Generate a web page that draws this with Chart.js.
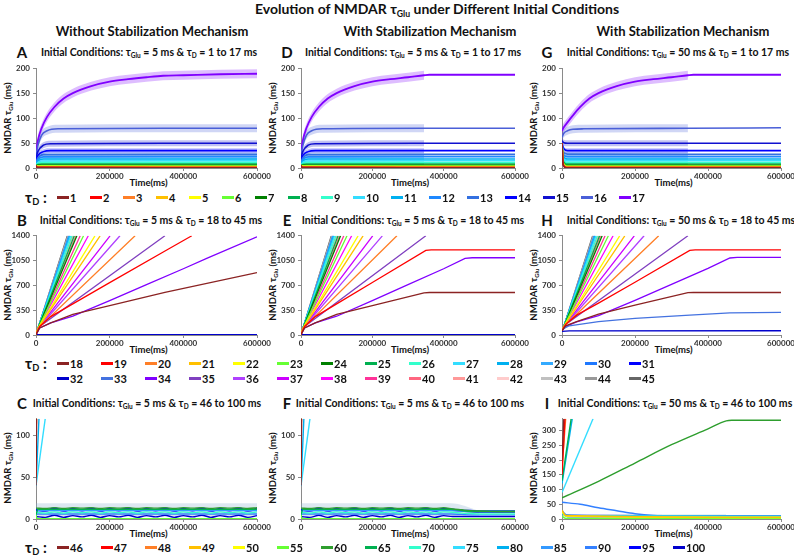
<!DOCTYPE html>
<html>
<head>
<meta charset="utf-8">
<script src="https://cdn.jsdelivr.net/npm/chart.js@4.4.1/dist/chart.umd.min.js"></script>
<style>
body{margin:0;width:794px;height:555px;background:#fff;position:relative;overflow:hidden;font-family:Lato,"Open Sans",sans-serif;font-weight:700;color:#111}
.t{position:absolute;white-space:nowrap;line-height:1}
.c{transform:translate(-50%,-50%)}
.l{transform:translate(0,-50%)}
.r{transform:translate(-50%,-50%) rotate(-90deg)}
.k{position:absolute;height:2.5px}
sub{font-size:.62em;vertical-align:-.3em;line-height:0}
canvas{position:absolute}
</style>
</head>
<body>
<script>
// legend labels
const TAU_D1 = [1,2,3,4,5,6,7,8,9,10,11,12,13,14,15,16,17];
const TAU_D2 = [18,19,20,21,22,23,24,25,26,27,28,29,30,31,32,33,34,35,36,37,38,39,40,41,42,43,44,45];
const TAU_D3 = [46,47,48,49,50,55,60,65,70,75,80,85,90,95,100];

const COLORS1 = ['#8B2323','#FF0000','#FF7F27','#FFC000','#FFFF00','#66FF33','#008000','#00B050','#33FFCC','#33DDFF','#00B0F0','#1E88FF','#3370E0','#0000FF','#1010D0','#4A5FD8','#8000FF'];
const COLORS2 = ['#8B2323','#FF0000','#FF7F27','#FFC000','#FFFF00','#66FF33','#008000','#00B050','#33FFCC','#33DDFF','#00B0F0','#33AAFF','#1E78FF','#0000FF','#0000CC','#4472E0','#8000FF','#8040C0','#B040FF','#CC00FF','#FF00FF','#FF3399','#FF6680','#FF9999','#FFCCCC','#C0C0C0','#999999','#666666'];
const COLORS3 = ['#8B2323','#FF0000','#FF7F27','#FFC000','#FFFF00','#66FF33','#2E9E2E','#00B050','#33FFCC','#33DDFF','#00B0F0','#3399FF','#3380FF','#0000FF','#0000CC'];

// ticks
const X_TICKS = [0,200000,400000,600000];
const Y_TICKS1 = [0,50,100,150,200];
const Y_TICKS2 = [0,350,700,1050,1400];
const Y_TICKS3 = [0,50,100];
const Y_TICKS3I = [0,50,100,150,200,250,300];

// row 1: tauD 1..17, [time, tauGlu]
const A_PTS = [
  [[0,5],[3000,1],[345000,0.4],[600000,0.4]],
  [[0,5],[3000,1.5],[345000,0.8],[600000,0.8]],
  [[0,5],[4000,2],[345000,1.3],[600000,1.3]],
  [[0,5],[4000,2.5],[345000,2],[600000,2]],
  [[0,5],[5000,3.5],[345000,3],[600000,3]],
  [[0,5],[5000,4.5],[345000,4],[600000,4]],
  [[0,5],[5000,5.5],[345000,5.5],[600000,5.5]],
  [[0,5],[5000,7],[15000,8],[345000,8],[600000,8]],
  [[0,5],[5000,9],[15000,11],[345000,11],[600000,11]],
  [[0,5],[5000,11],[15000,14],[345000,14.5],[600000,14.5]],
  [[0,8],[5000,14],[20000,18],[345000,18],[600000,18]],
  [[0,10],[5000,17],[20000,22.5],[345000,23],[600000,23]],
  [[0,12],[5000,20],[20000,27],[345000,27.5],[600000,27.5]],
  [[0,15],[5000,25],[20000,33],[40000,35],[345000,35],[600000,35]],
  [[0,20],[5000,33],[20000,46],[40000,49],[345000,50],[600000,50]],
  [[0,25],[5000,45],[15000,66],[30000,75],[60000,79],[345000,80],[600000,80]],
  [[0,30],[5000,55],[15000,80],[30000,103],[50000,123],[75000,140],[100000,151],[150000,165],[200000,174],[250000,179],[300000,183],[345000,186],[400000,187],[500000,189],[600000,190]]
];
const D_TOP = [[0,30],[5000,55],[15000,80],[30000,103],[50000,123],[75000,140],[100000,151],[150000,165],[200000,174],[250000,179],[300000,183],[345000,187],[360000,188],[600000,188]];
const G_PTS = [
  [[0,50],[3000,6],[12000,0.4],[345000,0.4],[600000,0.4]],
  [[0,50],[3000,7],[12000,0.8],[345000,0.8],[600000,0.8]],
  [[0,50],[3000,8],[12000,1.3],[345000,1.3],[600000,1.3]],
  [[0,50],[3000,9],[12000,2],[345000,2],[600000,2]],
  [[0,50],[3000,10],[12000,3],[345000,3],[600000,3]],
  [[0,50],[3000,11],[12000,4],[345000,4],[600000,4]],
  [[0,50],[3000,12],[12000,5.5],[345000,5.5],[600000,5.5]],
  [[0,50],[3000,14],[12000,8],[345000,8],[600000,8]],
  [[0,50],[3000,17],[12000,11],[345000,11],[600000,11]],
  [[0,50],[3000,20],[12000,14.5],[345000,14.5],[600000,14.5]],
  [[0,50],[3000,24],[15000,18],[345000,18],[600000,18]],
  [[0,50],[3000,28],[15000,23],[345000,23],[600000,23]],
  [[0,50],[3000,33],[15000,28],[345000,27.5],[600000,27.5]],
  [[0,50],[4000,40],[15000,35],[345000,35],[600000,35]],
  [[0,55],[5000,51],[15000,50],[345000,50],[600000,50]],
  [[0,62],[5000,70],[15000,75],[30000,78],[60000,79],[345000,80],[600000,81]],
  [[0,75],[5000,82],[15000,92],[30000,106],[50000,123],[75000,140],[100000,151],[150000,165],[200000,174],[250000,179],[300000,183],[345000,187],[360000,188],[600000,188]]
];
const NOISE1 = [0.4,0.6,0.8,1,1.2,1.5,1.8,2,2.5,3,3.5,4,4,5,6,8,9];

// row 2: tauD 18..45
const B_PTS = [
  [[0,5],[10000,100],[40000,170],[100000,290],[200000,415],[350000,600],[600000,880]],
  [[0,5],[10000,120],[40000,260],[100000,440],[200000,740],[355000,1200],[423000,1400]],
  [[0,5],[5000,90],[269000,1400]],
  [[0,5],[5000,90],[174000,1400]],
  [[0,5],[5000,90],[160000,1400]],
  [[0,5],[5000,90],[129000,1400]],
  [[0,5],[5000,90],[111000,1400]],
  [[0,5],[5000,90],[104000,1400]],
  [[0,5],[5000,90],[98000,1400]],
  [[0,5],[5000,90],[94000,1400]],
  [[0,5],[5000,90],[92000,1400]],
  [[0,5],[5000,90],[90000,1400]],
  [[0,5],[5000,90],[89000,1400]],
  [[0,5],[5000,90],[91000,1400]],
  [[0,5],[600000,5]],
  [[0,5],[600000,5]],
  [[0,5],[10000,100],[40000,170],[100000,265],[200000,485],[300000,710],[400000,935],[465000,1085],[600000,1385]],
  [[0,5],[10000,120],[350000,1400]],
  [[0,5],[5000,90],[228000,1400]],
  [[0,5],[5000,90],[201000,1400]],
  [[0,5],[5000,90],[142000,1400]],
  [[0,5],[5000,90],[120000,1400]],
  [[0,5],[5000,90],[108000,1400]],
  [[0,5],[5000,90],[101000,1400]],
  [[0,5],[5000,90],[96000,1400]],
  [[0,5],[5000,90],[88000,1400]],
  [[0,5],[5000,90],[86000,1400]],
  [[0,5],[5000,90],[85000,1400]]
];
const E_18 = [[0,5],[10000,100],[40000,170],[100000,290],[200000,415],[345000,595],[360000,600],[600000,600]];
const E_19 = [[0,5],[10000,120],[40000,260],[100000,440],[200000,740],[350000,1195],[365000,1200],[600000,1200]];
const E_34 = [[0,5],[10000,100],[40000,170],[100000,265],[200000,485],[300000,710],[400000,935],[460000,1082],[480000,1090],[600000,1090]];
const H_PTS = [
  [[0,60],[10000,130],[40000,190],[100000,295],[200000,420],[345000,597],[360000,600],[600000,600]],
  [[0,60],[10000,150],[40000,280],[100000,450],[200000,745],[350000,1195],[365000,1200],[600000,1200]],
  [[0,70],[5000,120],[265000,1400]],
  [[0,70],[5000,120],[172000,1400]],
  [[0,70],[5000,120],[158000,1400]],
  [[0,70],[5000,120],[127000,1400]],
  [[0,70],[5000,120],[110000,1400]],
  [[0,70],[5000,120],[103000,1400]],
  [[0,70],[5000,120],[97000,1400]],
  [[0,70],[5000,120],[93000,1400]],
  [[0,70],[5000,120],[91000,1400]],
  [[0,70],[5000,120],[89000,1400]],
  [[0,70],[5000,120],[88000,1400]],
  [[0,70],[5000,120],[90000,1400]],
  [[0,50],[20000,58],[600000,60]],
  [[0,80],[20000,130],[100000,190],[200000,235],[350000,280],[460000,312],[600000,318]],
  [[0,60],[10000,120],[40000,185],[100000,275],[200000,490],[300000,715],[400000,940],[460000,1087],[480000,1095],[600000,1095]],
  [[0,70],[10000,150],[345000,1400]],
  [[0,70],[5000,120],[225000,1400]],
  [[0,70],[5000,120],[198000,1400]],
  [[0,70],[5000,120],[140000,1400]],
  [[0,70],[5000,120],[118000,1400]],
  [[0,70],[5000,120],[106000,1400]],
  [[0,70],[5000,120],[100000,1400]],
  [[0,70],[5000,120],[95000,1400]],
  [[0,70],[5000,120],[87000,1400]],
  [[0,70],[5000,120],[85000,1400]],
  [[0,70],[5000,120],[84000,1400]]
];

// row 3: tauD 46..100
const W_X = [0,25000,50000,75000,100000,125000,150000,175000,200000,225000,250000,275000,300000,325000,350000,375000,400000,425000,450000,475000,500000,525000,550000,575000,600000];
const C60_Y = [13,12.5,13.5,12.5,13.5,13,13.5,12.5,13.5,13,13.5,12.5,13.5,13,13.5,12.5,13.5,13,13.5,12.5,13.5,13,13.5,12.5,13.5];
const C70_Y = [8,7,8.5,7,8.5,7.5,8.5,7,8.5,7.5,8.5,7,8.5,7.5,8.5,7,8.5,7.5,8.5,7,8.5,7.5,8.5,7,8.5];
const C95_Y = [11,10,12.5,10,12,10.5,12.5,10,12,10.5,12.5,10,12,10.5,12.5,10,12,10.5,12.5,10,12,10.5,12.5,10,12];
const C100_Y = [3,2,4.5,2,4,2.5,4.5,2,4,2.5,4.5,2,4,2.5,4.5,2,4,2.5,4.5,2,4,2.5,4.5,2,4];
const F60_Y = [13,12.5,13.5,12.5,13.5,13,13.5,12.5,13.5,13,13.5,12.5,13.5,13,13.5,12.5,13.5,12,11,10,9.5,9.2,9,9,9];
const F70_Y = [8,7,8.5,7,8.5,7.5,8.5,7,8.5,7.5,8.5,7,8.5,7.5,8.5,7,8.5,8,7,6.5,6,6,6,6,6];
const F95_Y = [11,10,12.5,10,12,10.5,12.5,10,12,10.5,12.5,10,12,10.5,12.5,10,12,11,10,9.5,9,9,9,9,9];
const F100_Y = [3,2,4.5,2,4,2.5,4.5,2,4,2.5,4.5,2,4,2.5,4.5,2,4,3,3,3,3,3,3,3,3];
const C_PTS = [
  [[0,40],[1500,120]],
  [[0,50],[1200,120]],
  [[0,60],[1000,120]],
  [[0,50],[900,120]],
  [[0,55],[1000,120]],
  [[0,5],[3000,0.5],[600000,0.5]],
  W_X.map((x, i) => [x, C60_Y[i]]),
  [[0,5],[5000,11.5],[600000,11.5]],
  W_X.map((x, i) => [x, C70_Y[i]]),
  [[0,40],[25000,120]],
  [[0,40],[8000,120]],
  [[0,5],[5000,10],[600000,10]],
  [[0,5],[5000,6],[600000,6]],
  W_X.map((x, i) => [x, C95_Y[i]]),
  W_X.map((x, i) => [x, C100_Y[i]])
];
const F_PTS = [
  [[0,40],[1500,120]],
  [[0,50],[1200,120]],
  [[0,60],[1000,120]],
  [[0,50],[900,120]],
  [[0,55],[1000,120]],
  [[0,5],[3000,0.5],[600000,0.5]],
  W_X.map((x, i) => [x, F60_Y[i]]),
  [[0,5],[5000,11.5],[420000,11.5],[480000,9],[600000,9]],
  W_X.map((x, i) => [x, F70_Y[i]]),
  [[0,40],[25000,120]],
  [[0,40],[8000,120]],
  [[0,5],[5000,10],[420000,10],[480000,9],[600000,9]],
  [[0,5],[5000,6],[420000,6],[480000,5],[600000,5]],
  W_X.map((x, i) => [x, F95_Y[i]]),
  W_X.map((x, i) => [x, F100_Y[i]])
];
const I_PTS = [
  [[0,200],[5000,340]],
  [[0,150],[8000,340]],
  [[0,170],[10000,340]],
  [[0,30],[10000,12],[600000,6]],
  [[0,25],[10000,10],[600000,5]],
  [[0,10],[10000,2],[600000,1]],
  [[0,72],[100000,128],[200000,190],[300000,252],[400000,306],[450000,333],[465000,335],[600000,335]],
  [[0,130],[25000,340]],
  [[0,20],[10000,10],[600000,9]],
  [[0,90],[85000,340]],
  [[0,120],[28000,340]],
  [[0,30],[10000,15],[100000,11],[600000,10]],
  [[0,57],[50000,50],[100000,38],[150000,28],[200000,18],[250000,12],[300000,10],[600000,9]],
  [[0,25],[15000,12],[600000,10]],
  [[0,20],[15000,8],[600000,7]]
];
const C_BAND = [[[0,3],[600000,3]], [[0,19],[600000,19]]];
const F_BAND = [[[0,3],[500000,3]], [[0,19],[420000,19],[500000,10]]];
const I_BAND = [[[0,2],[450000,2]], [[0,16],[450000,16]]];

Chart.defaults.font.family = 'Lato, "Open Sans", sans-serif';

function rgba(hex, a) {
  const n = parseInt(hex.slice(1), 16);
  return 'rgba(' + (n >> 16) + ',' + ((n >> 8) & 255) + ',' + (n & 255) + ',' + a + ')';
}

function put(html, x, y, size, cls) {
  const d = document.createElement('div');
  d.className = 't ' + (cls || 'c');
  d.style.left = x + 'px';
  d.style.top = y + 'px';
  d.style.fontSize = size + 'px';
  d.innerHTML = html;
  document.body.appendChild(d);
}

function toXY(pts) { return pts.map(p => ({x: p[0], y: p[1]})); }

function makePanel(p) {
  const cv = document.createElement('canvas');
  const w = p.R - p.L + 30 + 18, h = p.B - p.T + 6 + 14;
  cv.width = w; cv.height = h;
  cv.style.left = (p.L - 30) + 'px';
  cv.style.top = (p.T - 6) + 'px';
  cv.style.width = w + 'px'; cv.style.height = h + 'px';
  document.body.appendChild(cv);

  const mode = p.straight ? 'default' : 'monotone';
  const datasets = [];
  (p.bands || []).forEach(b => {
    datasets.push({data: toXY(b.lo), borderWidth: 0, pointRadius: 0, fill: false, order: 10, cubicInterpolationMode: 'monotone'});
    datasets.push({data: toXY(b.hi), borderWidth: 0, pointRadius: 0, fill: '-1', backgroundColor: b.color, order: 10, cubicInterpolationMode: 'monotone'});
  });
  p.series.forEach((pts, i) => {
    datasets.push({
      data: toXY(pts),
      borderColor: p.colors[i],
      borderWidth: (p.widths && p.widths[i]) || p.lw,
      pointRadius: 0,
      fill: false,
      order: 0,
      tension: 0,
      cubicInterpolationMode: mode
    });
  });

  const tickFont = {size: 8, weight: 'bold'};
  new Chart(cv, {
    type: 'line',
    data: {datasets},
    options: {
      responsive: false,
      animation: false,
      layout: {padding: {top: 6, right: 18, left: 0, bottom: 0}},
      plugins: {legend: {display: false}, tooltip: {enabled: false}},
      scales: {
        x: {
          type: 'linear', min: 0, max: 600000,
          afterBuildTicks: s => { s.ticks = X_TICKS.map(v => ({value: v})); },
          afterFit: s => { s.height = 14; },
          ticks: {font: tickFont, color: '#333', padding: 1, maxRotation: 0, autoSkip: false, callback: v => String(v)},
          grid: {drawOnChartArea: false, tickLength: 3, color: '#8a8a8a'},
          border: {color: '#8a8a8a', width: 1}
        },
        y: {
          type: 'linear', min: 0, max: p.yMax,
          afterBuildTicks: s => { s.ticks = p.yTicks.map(v => ({value: v})); },
          afterFit: s => { s.width = 30; },
          ticks: {font: tickFont, color: '#333', padding: 3, callback: v => String(v)},
          grid: {drawOnChartArea: false, tickLength: 3, color: '#8a8a8a'},
          border: {color: '#8a8a8a', width: 1}
        }
      }
    }
  });
}

function noiseBands(pts, colors, end) {
  return pts.map((s, i) => {
    const part = s.filter(q => q[0] <= end);
    return {
      lo: part.map(q => [q[0], Math.max(0, q[1] - NOISE1[i])]),
      hi: part.map(q => [q[0], q[1] + NOISE1[i]]),
      color: rgba(colors[i], 0.26)
    };
  });
}

// ---------- titles ----------
put('Evolution of NMDAR τ<sub>Glu</sub> under Different Initial Conditions', 437, 9, 14);
put('Without Stabilization Mechanism', 152, 31, 13);
put('With Stabilization Mechanism', 430, 31, 13);
put('With Stabilization Mechanism', 683, 31, 13);

const COLS = [{L: 36, R: 257}, {L: 301, R: 515}, {L: 562, R: 781}];
const ROWS = [{T: 67, B: 168, sub: 52}, {T: 234, B: 335, sub: 220}, {T: 417, B: 519, sub: 403}];
const LETTERS = [['A','D','G'], ['B','E','H'], ['C','F','I']];
const LETTER_X = [22, 287, 547];
const SUB_X = [[149, 413, 678], [151, 413, 681], [147, 410, 675]];
const SUB_TXT = [
  ['5', '5', '50', '1 to 17'],
  ['5', '5', '50', '18 to 45'],
  ['5', '5', '50', '46 to 100']
];

for (let r = 0; r < 3; r++) {
  for (let c = 0; c < 3; c++) {
    const L = COLS[c].L, R = COLS[c].R, T = ROWS[r].T, B = ROWS[r].B;
    put(LETTERS[r][c], LETTER_X[c], ROWS[r].sub, 15);
    put('Initial Conditions: τ<sub>Glu</sub> = ' + SUB_TXT[r][c] + ' ms &amp; τ<sub>D</sub> = ' + SUB_TXT[r][3] + ' ms', SUB_X[r][c], ROWS[r].sub, 10.5);
    put('NMDAR τ<sub>Glu</sub> (ms)', L - 28, (T + B) / 2, 9.5, 'r');
    put('Time(ms)', (L + R) / 2 + 2, B + 15, 9.5);
  }
}

// ---------- panels ----------
const E_PTS = B_PTS.slice();
E_PTS[0] = E_18; E_PTS[1] = E_19; E_PTS[16] = E_34;
const D_PTS = A_PTS.slice(0, 16).concat([D_TOP]);

const w17 = COLORS1.map((c, i) => i === 16 ? 1.8 : 1.6);
makePanel({L: 36, R: 257, T: 67, B: 168, yMax: 200, yTicks: Y_TICKS1, series: A_PTS, colors: COLORS1, lw: 1.6, widths: w17, bands: noiseBands(A_PTS, COLORS1, 600000)});
makePanel({L: 301, R: 515, T: 67, B: 168, yMax: 200, yTicks: Y_TICKS1, series: D_PTS, colors: COLORS1, lw: 1.6, widths: w17, bands: noiseBands(D_PTS, COLORS1, 345000)});
makePanel({L: 562, R: 781, T: 67, B: 168, yMax: 200, yTicks: Y_TICKS1, series: G_PTS, colors: COLORS1, lw: 1.6, widths: w17, bands: noiseBands(G_PTS, COLORS1, 345000)});

makePanel({L: 36, R: 257, T: 234, B: 335, yMax: 1400, yTicks: Y_TICKS2, series: B_PTS, colors: COLORS2, lw: 1.3, straight: true});
makePanel({L: 301, R: 515, T: 234, B: 335, yMax: 1400, yTicks: Y_TICKS2, series: E_PTS, colors: COLORS2, lw: 1.3, straight: true});
makePanel({L: 562, R: 781, T: 234, B: 335, yMax: 1400, yTicks: Y_TICKS2, series: H_PTS, colors: COLORS2, lw: 1.3, straight: true});

const w3 = COLORS3.map((c, i) => i === 13 ? 2.4 : 1.4);
makePanel({L: 36, R: 257, T: 417, B: 519, yMax: 120, yTicks: Y_TICKS3, series: C_PTS, colors: COLORS3, lw: 1.4, widths: w3,
  bands: [{lo: C_BAND[0], hi: C_BAND[1], color: 'rgba(140,175,210,0.3)'}]});
makePanel({L: 301, R: 515, T: 417, B: 519, yMax: 120, yTicks: Y_TICKS3, series: F_PTS, colors: COLORS3, lw: 1.4, widths: w3,
  bands: [{lo: F_BAND[0], hi: F_BAND[1], color: 'rgba(140,175,210,0.3)'}]});
makePanel({L: 562, R: 781, T: 417, B: 519, yMax: 340, yTicks: Y_TICKS3I, series: I_PTS, colors: COLORS3, lw: 1.4,
  bands: [{lo: I_BAND[0], hi: I_BAND[1], color: 'rgba(140,200,200,0.3)'}]});

// ---------- legends ----------
function legendItem(label, color, x, y) {
  const k = document.createElement('div');
  k.className = 'k';
  k.style.left = x + 'px'; k.style.top = (y - 1) + 'px'; k.style.width = '12px';
  k.style.background = color;
  document.body.appendChild(k);
  put(String(label), x + 13, y, 11, 'l');
}
put('τ<sub>D</sub> :', 25, 197, 15, 'l');
TAU_D1.forEach((v, i) => legendItem(v, COLORS1[i], i < 9 ? 57 + 33 * i : 353 + 38 * (i - 9), 197));
put('τ<sub>D</sub> :', 25, 363, 15, 'l');
TAU_D2.forEach((v, i) => legendItem(v, COLORS2[i], 57 + 44 * (i % 14), i < 14 ? 363 : 378));
put('τ<sub>D</sub> :', 25, 547, 15, 'l');
TAU_D3.forEach((v, i) => legendItem(v, COLORS3[i], 57 + 44 * i, 547));
</script>
</body>
</html>
